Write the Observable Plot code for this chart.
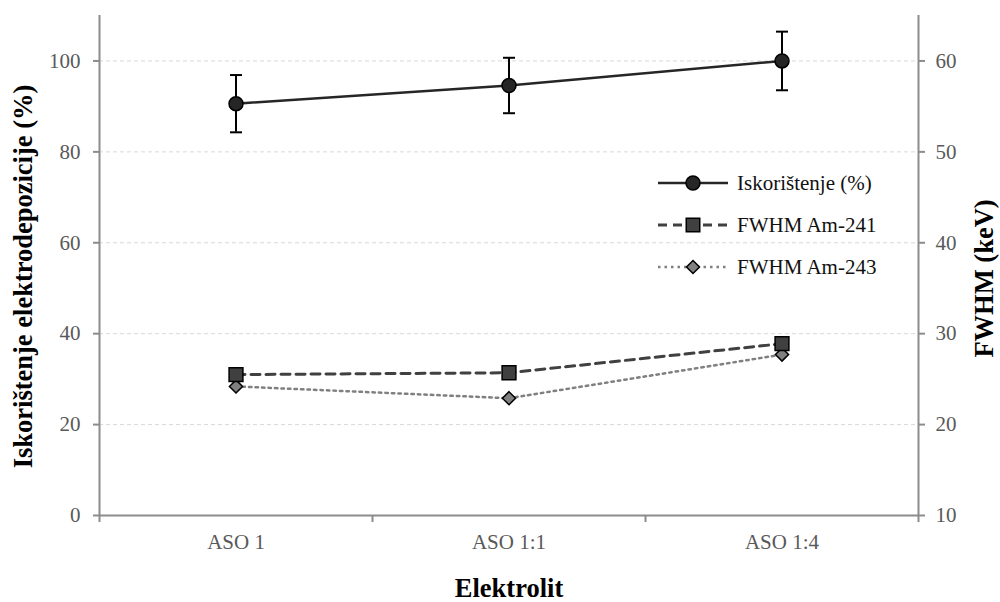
<!DOCTYPE html>
<html><head><meta charset="utf-8">
<script src="https://cdn.jsdelivr.net/npm/d3@7"></script>
<script src="https://cdn.jsdelivr.net/npm/@observablehq/plot@0.6"></script>
<style>
html,body{margin:0;padding:0;background:#fff;}
#wrap{position:relative;width:1000px;height:602px;}
#legend{position:absolute;left:656px;top:162px;}
</style></head><body><div id="wrap"><div id="chart"></div><div id="legend"></div></div>
<script>
const categories = ["ASO 1", "ASO 1:1", "ASO 1:4"];
const iskoristenje = [90.6, 94.6, 100.0];
const iskoristenjeErr = [6.3, 6.1, 6.45];
const fwhmAm241 = [25.5, 25.7, 28.9];
const fwhmAm243 = [24.2, 22.9, 27.7];
const leftTicks = [0, 20, 40, 60, 80, 100];
const rightTicks = [10, 20, 30, 40, 50, 60];
const seriesNames = ["Iskorištenje (%)", "FWHM Am-241", "FWHM Am-243"];
const xTitle = "Elektrolit";
const yLeftTitle = "Iskorištenje elektrodepozicije (%)";
const yRightTitle = "FWHM (keV)";

// right axis (keV) -> left scale
const toLeft = k => (k - 10) * 2;
const fromLeft = v => v / 2 + 10;

const isk = categories.map((c, i) => ({c, x: i + 0.5, y: iskoristenje[i], lo: iskoristenje[i] - iskoristenjeErr[i], hi: iskoristenje[i] + iskoristenjeErr[i]}));
const am241 = categories.map((c, i) => ({c, x: i + 0.5, y: toLeft(fwhmAm241[i])}));
const am243 = categories.map((c, i) => ({c, x: i + 0.5, y: toLeft(fwhmAm243[i])}));

const capSymbol = {draw(ctx, size) { const w = 12; ctx.moveTo(-w/2, 0); ctx.lineTo(w/2, 0); }};
const font = "'Liberation Serif', 'Times New Roman', serif";
const axisGray = "#8c8c8c";
const labelGray = "#595959";

const plot = Plot.plot({
  width: 1000, height: 602,
  marginLeft: 99, marginRight: 82, marginTop: 15, marginBottom: 87,
  style: {fontFamily: font, background: "#fff"},
  x: {type: "linear", domain: [0, categories.length], axis: null},
  y: {domain: [0, 110], axis: null},
  marks: [
    Plot.gridY(leftTicks.filter(t => t > 0), {stroke: "#d9d9d9", strokeOpacity: 1, strokeDasharray: "4,3", strokeWidth: 1}),
    Plot.ruleX([0], {stroke: axisGray, strokeWidth: 2}),
    Plot.ruleX([categories.length], {stroke: axisGray, strokeWidth: 2}),
    Plot.ruleY([0], {stroke: axisGray, strokeWidth: 2}),
    Plot.axisY(leftTicks, {anchor: "left", tickSize: 6, tickPadding: 13, fontSize: 21, stroke: axisGray, strokeWidth: 2, fill: labelGray, label: null}),
    Plot.axisY(rightTicks.map(toLeft), {anchor: "right", tickSize: 6, tickPadding: 11, fontSize: 21, stroke: axisGray, strokeWidth: 2, fill: labelGray, tickFormat: v => String(fromLeft(v)), label: null}),
    Plot.axisX(d3.range(categories.length + 1), {anchor: "bottom", tickSize: 7, stroke: axisGray, strokeWidth: 2, tickFormat: () => "", label: null}),
    Plot.axisX(categories.map((c, i) => i + 0.5), {anchor: "bottom", tickSize: 0, tickPadding: 19, fontSize: 21, fill: labelGray, tickFormat: v => categories[Math.floor(v)], label: null}),
    Plot.text([xTitle], {frameAnchor: "bottom", dy: 81, fontSize: 26.5, fontWeight: "bold", fill: "#000"}),
    Plot.text([yLeftTitle], {frameAnchor: "left", textAnchor: "middle", lineAnchor: "middle", rotate: -90, dx: -76, dy: 11, fontSize: 26.5, fontWeight: "bold", fill: "#000"}),
    Plot.text([yRightTitle], {frameAnchor: "right", textAnchor: "middle", lineAnchor: "middle", rotate: -90, dx: 66, dy: 13, fontSize: 26.5, fontWeight: "bold", fill: "#000"}),
    // lines
    Plot.line(am243, {x: "x", y: "y", stroke: "#808080", strokeWidth: 2.5, strokeDasharray: "2.5,4"}),
    Plot.line(am241, {x: "x", y: "y", stroke: "#404040", strokeWidth: 3, strokeDasharray: "9,6"}),
    Plot.line(isk, {x: "x", y: "y", stroke: "#262626", strokeWidth: 2.5}),
    // error bars
    Plot.ruleX(isk, {x: "x", y1: "lo", y2: "hi", stroke: "#000", strokeWidth: 2}),
    Plot.dot(isk, {x: "x", y: "lo", symbol: capSymbol, r: 4, stroke: "#000", strokeWidth: 2, fill: "none"}),
    Plot.dot(isk, {x: "x", y: "hi", symbol: capSymbol, r: 4, stroke: "#000", strokeWidth: 2, fill: "none"}),
    // markers
    Plot.dot(am243, {x: "x", y: "y", symbol: "diamond2", r: 5.9, fill: "#808080", stroke: "#000", strokeWidth: 1.5}),
    Plot.dot(am241, {x: "x", y: "y", symbol: "square", r: 7.8, fill: "#404040", stroke: "#000", strokeWidth: 1.5}),
    Plot.dot(isk, {x: "x", y: "y", r: 7, fill: "#262626", stroke: "#000", strokeWidth: 1.5})
  ]
});
document.getElementById("chart").appendChild(plot);

// legend (drawn as SVG)
const legendStyles = [
  {stroke: "#262626", width: 2.5, dash: null, sym: d3.symbolCircle, size: Math.PI * 49, fill: "#262626"},
  {stroke: "#404040", width: 3, dash: "9,6", sym: d3.symbolSquare, size: 13.5 * 13.5, fill: "#404040"},
  {stroke: "#808080", width: 2.5, dash: "2.5,4", sym: d3.symbolDiamond2, size: (13 / 1.2525) ** 2, fill: "#808080"}
];
const lsvg = d3.select("#legend").append("svg").attr("width", 240).attr("height", 130)
  .style("display", "block").style("font-family", font).style("font-size", "21px");
seriesNames.forEach((name, i) => {
  const s = legendStyles[i];
  const g = lsvg.append("g").attr("transform", `translate(0,${21 + i * 42})`);
  g.append("line").attr("x1", 2).attr("x2", 72).attr("y1", 0).attr("y2", 0)
    .attr("stroke", s.stroke).attr("stroke-width", s.width).attr("stroke-dasharray", s.dash);
  g.append("path").attr("transform", "translate(37,0)").attr("d", d3.symbol(s.sym, s.size)())
    .attr("fill", s.fill).attr("stroke", "#000").attr("stroke-width", 1.5);
  g.append("text").attr("x", 81).attr("y", 0).attr("dy", "0.33em").attr("fill", "#111").text(name);
});
</script>
</body></html>
